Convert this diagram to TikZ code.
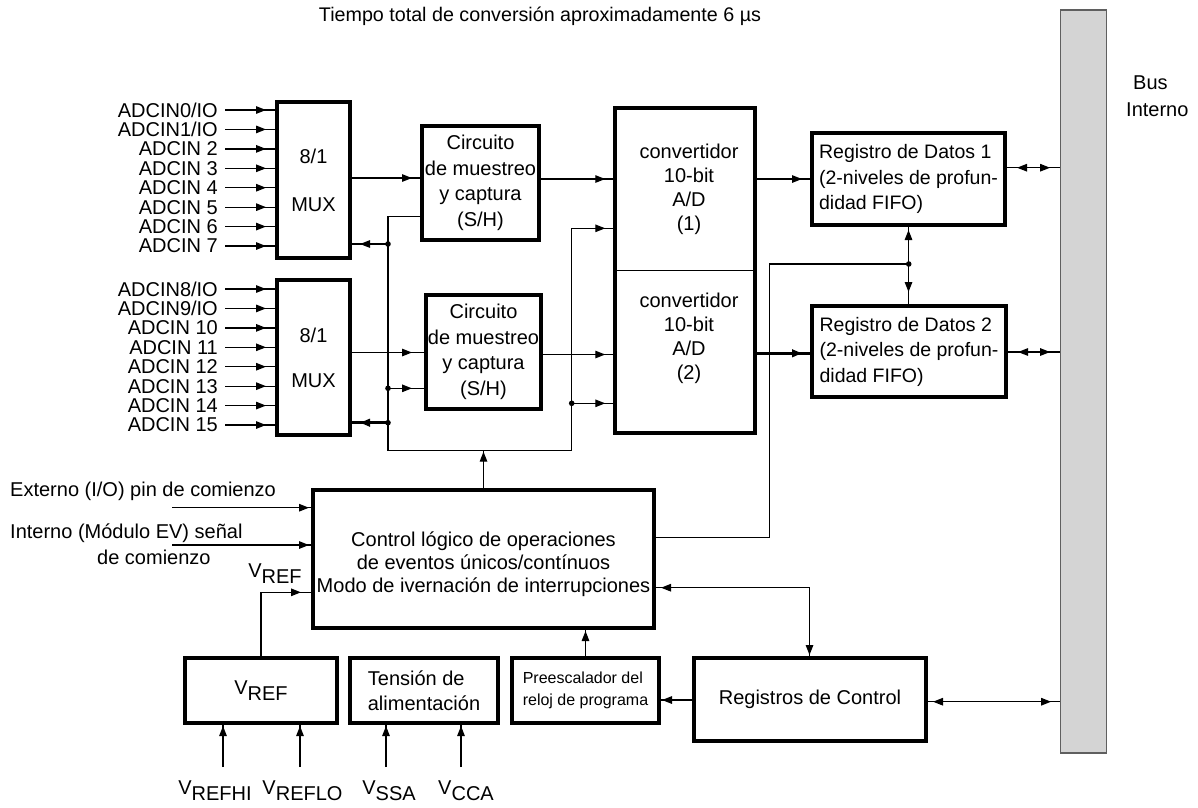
\documentclass[tikz,border=0pt]{standalone}
\usepackage{fontspec}
\setmainfont{Liberation Sans}
\usetikzlibrary{arrows.meta,decorations.markings}
\definecolor{busfill}{RGB}{212,212,212}
\definecolor{busline}{RGB}{95,95,95}
\newcommand\fsz[2]{\fontsize{#1}{#2}\selectfont}
\newcommand\Vsub[1]{V\raisebox{-6pt}{#1}}

\begin{document}
\begin{tikzpicture}[x=1pt,y=-1pt,
  Tri/.tip={Triangle[length=10pt,width=7.5pt]},
  txt/.style={font=\fsz{20}{25}, inner sep=0pt},
  box/.style={draw, line width=4pt, align=center, font=\fsz{20}{25}, inner sep=0pt},
  conn/.style={line width=1.3pt},
  heavy/.style={line width=2.6pt},
  tipend/.style={postaction={decorate,decoration={markings,
      mark=at position -#1 with {\arrow{Tri}}}}},
  tipend/.default=8pt,
  tipstart/.style={postaction={decorate,decoration={markings,
      mark=at position #1 with {\arrowreversed{Tri}}}}},
  tipstart/.default=8pt,
  busbar/.style={draw=busline, fill=busfill, line width=1.2pt, inner sep=0pt}]
\useasboundingbox (0,0) rectangle (1198,807);

% ---------------- title and internal bus
\node[txt, font=\fsz{19.7}{23}] (title) at (540,16)
  {Tiempo total de conversión aproximadamente 6 µs};
\node[busbar, minimum width=46pt, minimum height=743pt] (bus) at (1083.7,381.5) {};
\node[txt, align=left, anchor=west, font=\fsz{20}{27}] (buslbl) at (1126,96.5)
  {\hspace*{7pt}Bus\\Interno};

% ---------------- multiplexers
\node[box, minimum width=73pt, minimum height=156pt, font=\fsz{20}{48}] (mux1) at (313.5,180) {8/1\\MUX};
\node[box, minimum width=73pt, minimum height=155pt, font=\fsz{20}{45}] (mux2) at (313.5,357.5) {8/1\\MUX};

\foreach \lbl [count=\k from 0] in {ADCIN0/IO,ADCIN1/IO,ADCIN 2,ADCIN 3,ADCIN 4,ADCIN 5,ADCIN 6,ADCIN 7}{
  \node[txt, anchor=east] (ina\k) at (218,{110+19.43*\k}) {\lbl};
  \draw[conn,tipend=9pt] ([xshift=7pt]ina\k.east) -- (ina\k.east -| mux1.west);
}
\foreach \lbl [count=\k from 0] in {ADCIN8/IO,ADCIN9/IO,ADCIN 10,ADCIN 11,ADCIN 12,ADCIN 13,ADCIN 14,ADCIN 15}{
  \node[txt, anchor=east] (inb\k) at (218,{289+19.43*\k}) {\lbl};
  \draw[conn,tipend=9pt] ([xshift=7pt]inb\k.east) -- (inb\k.east -| mux2.west);
}

% ---------------- sample and hold circuits
\node[box, minimum width=117pt, minimum height=114pt, font=\fsz{20}{25.5}] (sh1) at (480.5,183)
  {Circuito\\de muestreo\\y captura\\(S/H)};
\node[box, minimum width=115pt, minimum height=114pt, font=\fsz{20}{25.5}] (sh2) at (483.5,352)
  {Circuito\\de muestreo\\y captura\\(S/H)};

% ---------------- A/D converter (two halves)
\node[box, line width=3.5pt, minimum width=140pt, minimum height=325pt] (adc) at (685,270.5) {};
\draw[conn] (adc.west) -- (adc.east);
\node[txt, align=center, font=\fsz{20}{24}] (adc1) at (689,189.5) {convertidor\\10-bit\\A/D\\(1)};
\node[txt, align=center, font=\fsz{20}{24}] (adc2) at (689,338.5) {convertidor\\10-bit\\A/D\\(2)};

% ---------------- data registers
\node[box, align=left, minimum width=193pt, minimum height=92pt, font=\fsz{19.5}{25.5}] (reg1) at (908.5,179)
  {Registro de Datos 1\\(2-niveles de profun-\\didad FIFO)};
\node[box, align=left, minimum width=194pt, minimum height=91pt, font=\fsz{19.5}{25.5}] (reg2) at (909,351.5)
  {Registro de Datos 2\\(2-niveles de profun-\\didad FIFO)};

% ---------------- control logic
\node[box, minimum width=341pt, minimum height=138pt] (ctl) at (483.5,559) {};
\node[txt, align=center, font=\fsz{20}{23}] (ctltxt) at (483.5,564)
  {Control lógico de operaciones\\de eventos únicos/contínuos\\Modo de ivernación de interrupciones};

% ---------------- lower blocks
\node[box, minimum width=152pt, minimum height=65pt] (vrefb) at (261,690.5) {\Vsub{REF}};
\node[box, align=left, minimum width=148pt, minimum height=65pt] (tens) at (424,690.5) {Tensión de\\alimentación};
\node[box, align=left, minimum width=147pt, minimum height=65pt, font=\fsz{16}{22}] (pre) at (585.5,690.5)
  {Preescalador del\\reloj de programa};
\node[box, minimum width=232pt, minimum height=83pt] (regc) at (810,699.5) {Registros de Control};

% ---------------- outside labels
\node[txt, anchor=west] (extlbl) at (10,491) {Externo (I/O) pin de comienzo};
\node[txt, anchor=west] (intlbl) at (10,533) {Interno (Módulo EV) señal};
\node[txt, anchor=west] (intlblb) at (97,557) {de comienzo};
\node[txt] (vreflbl) at (275,574) {\Vsub{REF}};
\node[txt] (vhi) at (215,790.5) {\Vsub{REFHI}};
\node[txt] (vlo) at (302.5,790.5) {\Vsub{REFLO}};
\node[txt] (vssa) at (389,790.5) {\Vsub{SSA}};
\node[txt] (vcca) at (466,790.5) {\Vsub{CCA}};

% ---------------- junction points
\coordinate (sa) at (388,216.7);
\coordinate (sb) at (388,450.7);
\coordinate (sc) at (571.7,450.7);
\coordinate (sd) at (571.7,228.3);
\coordinate (d1) at (388,244);
\coordinate (d2) at (388,388.3);
\coordinate (d3) at (388,422.7);
\coordinate (d4) at (571.7,403.3);
\coordinate (d5) at (908.7,264);
\coordinate (ce) at (769.3,264);
\coordinate (cf) at (769.3,537.3);
\coordinate (cg) at (809.5,587.7);
\coordinate (vk) at (261,592.3);
\coordinate (extin) at (172,507.7);
\coordinate (intin) at (172,545);
\coordinate (pa) at (223,767);
\coordinate (pb) at (300,767);
\coordinate (pc) at (386,767);
\coordinate (pd) at (461,767);

% ---------------- signal path
\draw[conn,tipend] (mux1.east |- 0,178) -- (sh1.west |- 0,178);
\draw[conn,tipend] (sh1.east |- 0,179) -- (adc.west |- 0,179);
\draw[conn,tipend] (adc.east |- 0,179) -- (reg1.west |- 0,179);
\draw[conn,tipend=12pt] (mux2.east |- 0,352.5) -- (sh2.west |- 0,352.5);
\draw[conn,tipend] (sh2.east |- 0,354.5) -- (adc.west |- 0,354.5);
\draw[heavy,tipend] (adc.east |- 0,353.3) -- (reg2.west |- 0,353.3);

% sampling / channel-select lines
\draw[conn,tipend] (sh1.west |- sa) -- (sa) -- (sb) -- (sc) -- (sd) -- (sd -| adc.west);
\draw[conn,tipend] (d1) -- (d1 -| mux1.east);
\draw[conn,tipend=12pt] (d2) -- (d2 -| sh2.west);
\draw[heavy,tipend] (d3) -- (d3 -| mux2.east);
\draw[conn,tipend] (d4) -- (d4 -| adc.west);
\draw[conn,tipend=1pt] (ctl.north) -- (ctl.north |- sb);

% register links
\draw[conn,tipstart=3pt,tipend=12pt] (reg1.south) -- (reg1.south |- reg2.north);
\draw[conn] (d5) -- (ce) -- (cf) -- (cf -| ctl.east);
\draw[conn,tipstart=5pt,tipend=1pt] (ctl.east |- cg) -- (cg) -- (cg |- regc.north);
\draw[conn,tipend=1pt] (regc.west |- 0,700) -- (pre.east |- 0,700);
\draw[conn,tipend=1pt] (pre.north) -- (pre.north |- ctl.south);

% bus connections
\draw[conn,tipstart=10pt,tipend=10pt] (reg1.east |- 0,167.7) -- (bus.west |- 0,167.7);
\draw[conn,tipstart=10pt,tipend=10pt] (reg2.east |- 0,352) -- (bus.west |- 0,352);
\draw[conn,tipstart=5pt,tipend=9pt] (regc.east |- 0,701.7) -- (bus.west |- 0,701.7);

% start signals and reference
\draw[conn,tipend=2pt] (extin) -- (extin -| ctl.west);
\draw[conn,tipend=2pt] (intin) -- (intin -| ctl.west);
\draw[conn,tipend=10pt] (vrefb.north) -- (vk) -- (vk -| ctl.west);

% supply inputs
\draw[conn,tipend=1pt] (pa) -- (pa |- vrefb.south);
\draw[conn,tipend=1pt] (pb) -- (pb |- vrefb.south);
\draw[conn,tipend=1pt] (pc) -- (pc |- tens.south);
\draw[conn,tipend=1pt] (pd) -- (pd |- tens.south);

% junction dots
\foreach \p in {d1,d2,d3,d4,d5} \fill (\p) circle (2.8pt);
\end{tikzpicture}
\end{document}
